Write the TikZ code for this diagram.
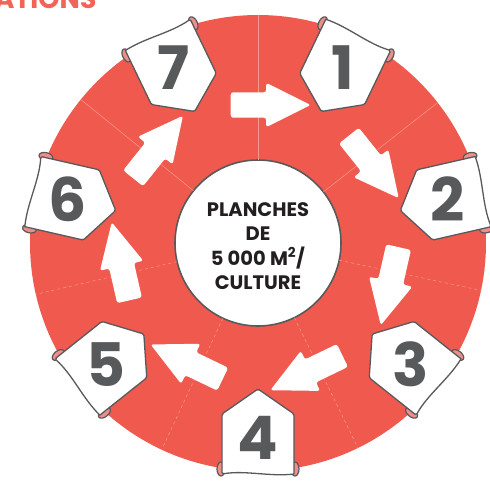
\documentclass[tikz,border=0pt]{standalone}
\usepackage{fontspec}
\setmainfont{Poppins}
\usetikzlibrary{shapes.arrows}
\definecolor{ringRed}{HTML}{F05A4E}
\definecolor{titleRed}{HTML}{F26457}
\definecolor{curlPink}{HTML}{EE8E8A}
\definecolor{tagGray}{HTML}{58595B}
\definecolor{seamRed}{HTML}{F8978D}
\definecolor{hubText}{HTML}{231F20}

\begin{document}
\begin{tikzpicture}[x=1pt, y=1pt, line join=round]
        \tikzset{
           ring/.style={
                        circle,
                        fill=ringRed,
                        minimum size=456pt,
                        inner sep=0pt,
                        outer sep=0pt
                       },
           hub/.style={
                        circle,
                        draw=tagGray,
                        line width=1.6pt,
                        fill=white,
                        minimum size=166pt,
                        inner sep=0pt,
                        outer sep=0pt,
                        text=hubText,
                        align=center,
                        font=\bfseries\fontsize{19.5}{24.5}\selectfont
                       },
           seam/.style={
                        draw=seamRed,
                        line width=0.5pt
                       },
           flow/.style={
                        single arrow,
                        fill=white,
                        minimum height=80pt,
                        text height=0pt,
                        text depth=0pt,
                        text width=0pt,
                        inner xsep=0pt,
                        inner ysep=12.5pt,
                        single arrow head extend=9.5pt,
                        single arrow tip angle=53,
                        single arrow head indent=0pt,
                        rounded corners=2.5pt
                       },
           num/.style={
                        text=tagGray,
                        font=\bfseries\fontsize{60}{60}\selectfont
                       },
           heading/.style={
                        text=titleRed,
                        font=\bfseries\fontsize{27}{27}\selectfont
                       },
           tag/.pic={
                        \filldraw[fill=curlPink, draw=tagGray, line width=1.2pt]
                              (-37,38) ellipse (4 and 7) (37,38) ellipse (4 and 7);
                        \filldraw[fill=white, draw=tagGray, line width=1.3pt, rounded corners=1.5pt]
                              (-36,43) -- (-36,-17) -- (0,-42) -- (36,-17) -- (36,43)
                              [sharp corners] .. controls (12,39) and (-12,46) .. (-36,43) -- cycle;
                       },
                 }
        \useasboundingbox (-258,-237) rectangle (232,243);
    %--------------------
        \node[heading, anchor=base east] (title) at (-158,234) {ATIONS};

        \node[ring] (ring) at (0,0) {};
        \node[hub]  (hub)  at (0,0) {};

        \draw[seam] (hub.90)      -- (ring.90);
        \draw[seam] (hub.38.57)   -- (ring.38.57);
        \draw[seam] (hub.141.43)  -- (ring.141.43);
        \draw[seam, dashed] (hub.-12.86)  -- (ring.-12.86);
        \draw[seam, dashed] (hub.-64.29)  -- (ring.-64.29);
        \draw[seam, dashed] (hub.-115.71) -- (ring.-115.71);
        \draw[seam, dashed] (hub.-167.14) -- (ring.-167.14);

        \node[hub] (hubText) at (0,-3) [draw=none, fill=none, minimum size=0pt]
              {PLANCHES\\DE\\5~000 M\textsuperscript{2}/\\CULTURE};
    %--------------------
        \node[flow, rotate=0]       (a71) at (90:138)      {};
        \node[flow, rotate=-51.43]  (a12) at (38.57:138)   {};
        \node[flow, rotate=-102.86] (a23) at (-12.86:138)  {};
        \node[flow, rotate=-154.29] (a34) at (-64.29:138)  {};
        \node[flow, rotate=-205.71] (a45) at (-115.71:138) {};
        \node[flow, rotate=-257.14] (a56) at (-167.14:138) {};
        \node[flow, rotate=51.43]   (a67) at (141.43:138)  {};
    %--------------------
        \pic[rotate=-25.71]  (t1) at (64.29:188)   {tag};
        \pic[rotate=-77.14]  (t2) at (12.86:188)   {tag};
        \pic[rotate=-128.57] (t3) at (-38.57:188)  {tag};
        \pic[rotate=-180]    (t4) at (-90:188)     {tag};
        \pic[rotate=-231.43] (t5) at (-141.43:188) {tag};
        \pic[rotate=77.14]   (t6) at (167.14:188)  {tag};
        \pic[rotate=25.71]   (t7) at (115.71:188)  {tag};

        \node[num] (n1) at (64.29:195)   {1};
        \node[num] (n2) at (12.86:195)   {2};
        \node[num] (n3) at (-38.57:195)  {3};
        \node[num] (n4) at (-90:195)     {4};
        \node[num] (n5) at (-141.43:195) {5};
        \node[num] (n6) at (167.14:195)  {6};
        \node[num] (n7) at (115.71:195)  {7};
\end{tikzpicture}
\end{document}
